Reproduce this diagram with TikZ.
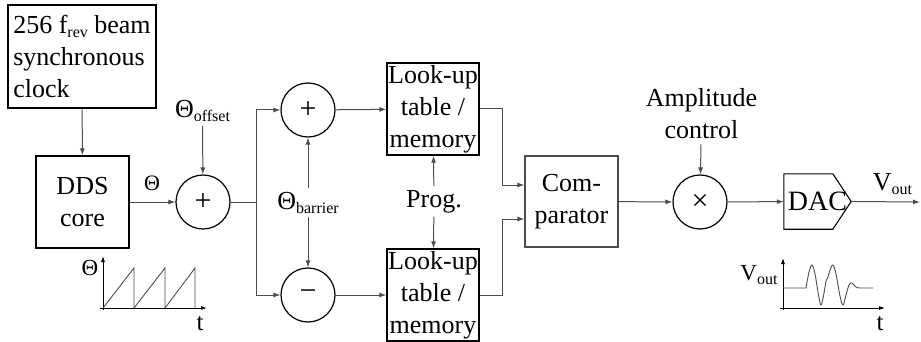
\documentclass[tikz,border=0pt]{standalone}
\usepackage{fontspec}
\setmainfont{Liberation Serif}
\usetikzlibrary{arrows.meta,calc}
\newcommand\lowsub[1]{\raisebox{-4pt}{\fontsize{16}{16}\selectfont #1}}
\definecolor{conn}{gray}{0.3}
\begin{document}
\begin{tikzpicture}[x=1pt,y=-1pt,
  box/.style={draw, line width=1.3pt, inner sep=0pt, align=center, font=\fontsize{26}{32}\selectfont},
  sumnode/.style={draw, circle, minimum size=54pt, inner sep=0pt, line width=1.2pt, font=\fontsize{30}{30}\selectfont},
  lbl/.style={font=\fontsize{26}{32}\selectfont, inner sep=0pt, outer sep=4pt, align=center},
  arr/.style={-{Latex[length=7pt,width=5pt]}, line width=1pt, draw=conn},
  ln/.style={line width=1pt, draw=conn},
  axis/.style={-{Latex[length=6pt,width=4pt]}, line width=0.9pt},
  sig/.style={line width=0.9pt, draw=conn}]
\useasboundingbox (0,0) rectangle (921,342);

% blocks
\node[box, minimum width=148pt, minimum height=103pt, align=left] (clock) at (82,56.5) {256 f\lowsub{rev} beam\\synchronous\\clock};
\node[box, minimum width=93pt, minimum height=92pt] (dds) at (82.5,202) {DDS\\core};
\node[sumnode] (s1) at (203,202) {+};
\node[sumnode] (splus) at (308,110) {+};
\node[sumnode] (sminus) at (308,295) {−};
\node[box, minimum width=92pt, minimum height=92pt] (lut1) at (433,109) {Look-up\\table /\\memory};
\node[box, minimum width=92pt, minimum height=92pt] (lut2) at (433,295) {Look-up\\table /\\memory};
\node[box, draw=conn, line width=1.1pt, minimum width=93pt, minimum height=91pt] (comp) at (571.5,201.5) {Com-\\parator};
\node[sumnode] (mult) at (700,202) {×};
\node[inner sep=0pt, minimum width=67pt, minimum height=55pt, font=\fontsize{28}{28}\selectfont] (dac) at (817.5,201.5) {DAC\hspace{8pt}};
\draw[line width=1.1pt, line join=miter] (dac.north west) -- ($(dac.north west)+(49,0)$) -- (dac.east) -- ($(dac.south west)+(49,0)$) -- (dac.south west) -- cycle;

% labels
\node[lbl, anchor=base] (off) at (202.5,118) {Θ\lowsub{offset}};
\node[lbl, font=\fontsize{22}{22}\selectfont] (thlab) at (152,183) {Θ};
\node[lbl, anchor=base] (bar) at (308,209) {Θ\lowsub{barrier}};
\node[lbl, anchor=base] (prog) at (434,207) {Prog.};
\node[lbl, anchor=north] (amp) at (701.5,84) {Amplitude\\control};
\node[lbl, anchor=base] (voutl) at (892.5,190) {V\lowsub{out}};

% connectors
\coordinate (j) at (256,202);
\coordinate (c1) at (502,109);
\coordinate (c2) at (502,295);
\coordinate (vo) at (920,202);
\draw[arr] (clock) -- (dds);
\draw[arr] (dds) -- (s1);
\draw[arr] (off) -- (s1);
\draw[ln] (s1) -- (j);
\draw[arr] (j) |- (splus);
\draw[arr] (j) |- (sminus);
\draw[arr] (bar) -- (splus);
\draw[arr] (bar) -- (sminus);
\draw[arr] (splus) -- (lut1);
\draw[arr] (sminus) -- (lut2);
\draw[arr] (prog) -- (lut1);
\draw[arr] (prog) -- (lut2);
\draw[arr] (lut1.east) -- (c1) |- ($(comp.west)+(0,-16.5)$);
\draw[arr] (lut2.east) -- (c2) |- ($(comp.west)+(0,17.5)$);
\draw[arr] (comp) -- (mult);
\draw[arr, shorten <=2pt] (amp) -- (mult);
\draw[arr] (mult) -- (dac);
\draw[arr] (dac.east) -- (vo);

% Theta graph
\draw[axis] (100,308) -- (207,308);
\draw[axis] (103,310) -- (103,256);
\draw[sig] (103,308) -- (134,268) -- (134,308) -- (165,268) -- (165,308) -- (195,268) -- (195,308);
\node[font=\fontsize{23}{23}\selectfont, inner sep=0pt] (gth) at (90,268) {Θ};
\node[font=\fontsize{25}{25}\selectfont, inner sep=0pt, anchor=base] (gt1) at (200,330) {t};

% Vout graph
\draw[axis] (780,308) -- (885,308);
\draw[axis] (783,310) -- (783,258);
\draw[sig] (783,288) -- (806,288) plot[smooth, tension=0.6] coordinates {(806,288) (809,272) (812,265) (815,274) (818,292) (821,305) (824,293) (826,281) (828,277) (830,270) (833,265) (836,274) (840,296) (843,305) (846,295) (849,285) (852,283) (856,287) (860,288)} -- (873,288);
\node[font=\fontsize{23}{23}\selectfont, inner sep=0pt, anchor=base] (gv) at (759,280) {V\lowsub{out}};
\node[font=\fontsize{25}{25}\selectfont, inner sep=0pt, anchor=base] (gt2) at (880,330) {t};
\end{tikzpicture}
\end{document}
